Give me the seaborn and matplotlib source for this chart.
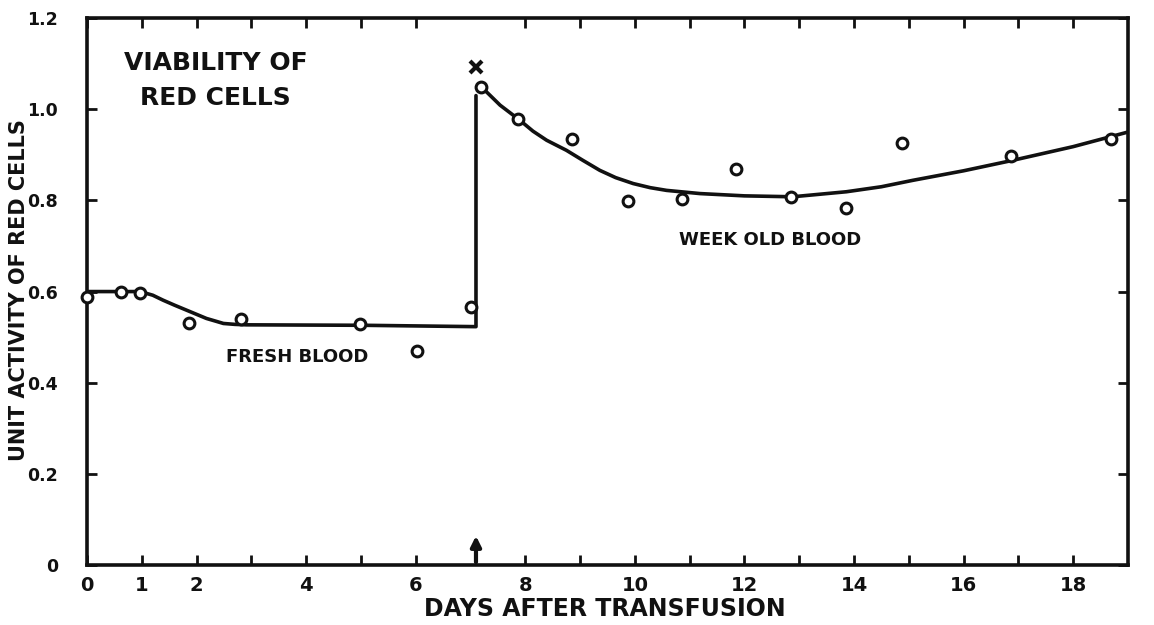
import matplotlib
matplotlib.use("Agg")
import matplotlib.pyplot as plt
import pandas as pd
import seaborn as sns

# measured points (open circles)
obs_day = [0.0, 0.62, 0.97, 1.86, 2.81, 4.98, 6.02, 7.0, 7.19, 7.86, 8.85,
           9.87, 10.86, 11.84, 12.85, 13.85, 14.87, 16.86, 18.7]
obs_activity = [0.588, 0.60, 0.597, 0.53, 0.54, 0.528, 0.47, 0.566, 1.048, 0.978, 0.934,
                0.798, 0.803, 0.87, 0.807, 0.783, 0.925, 0.897, 0.934]

# hand-drawn curve, fresh blood (ends with the vertical step at transfusion)
fresh_day = [0.0, 0.97, 1.2, 1.39, 1.6, 1.82, 2.0, 2.18, 2.35, 2.49, 2.7, 2.91, 5.04, 7.1, 7.1]
fresh_activity = [0.60, 0.60, 0.592, 0.581, 0.57, 0.559, 0.55, 0.541, 0.535, 0.53, 0.528,
                  0.527, 0.526, 0.523, 1.03]

# hand-drawn curve, week old blood
week_day = [7.2, 7.54, 7.9, 8.14, 8.39, 8.75, 9.05, 9.36, 9.65, 9.97, 10.28, 10.58,
            11.19, 12.0, 12.88, 13.86, 14.5, 15.07, 16.0, 16.9, 18.0, 19.0]
week_activity = [1.049, 1.009, 0.976, 0.952, 0.932, 0.91, 0.888, 0.866, 0.85, 0.837,
                 0.828, 0.822, 0.815, 0.81, 0.808, 0.819, 0.83, 0.844, 0.865, 0.888,
                 0.918, 0.95]

peak_day, peak_activity = 7.1, 1.092
transfusion_day = 7.1

x_ticks = [0, 1, 2, 3, 4, 5, 6, 8, 9, 10, 11, 12, 13, 14, 15, 16, 17, 18]
x_labels = ["0", "1", "2", "", "4", "", "6", "8", "", "10", "", "12", "", "14", "", "16", "", "18"]
y_ticks = [0, 0.2, 0.4, 0.6, 0.8, 1.0, 1.2]
y_labels = ["0", "0.2", "0.4", "0.6", "0.8", "1.0", "1.2"]

sns.set_style("ticks")
plt.rcParams["font.family"] = ["DejaVu Sans"]
plt.rcParams["font.weight"] = "bold"
ink = "#111111"

fig = plt.figure(figsize=(11.54, 6.25), dpi=100)
ax = fig.add_axes([0.0754, 0.096, 0.902, 0.875])

fresh = pd.DataFrame({"day": fresh_day, "activity": fresh_activity})
week = pd.DataFrame({"day": week_day, "activity": week_activity})
obs = pd.DataFrame({"day": obs_day, "activity": obs_activity})

sns.lineplot(data=fresh, x="day", y="activity", sort=False, estimator=None,
             color=ink, lw=2.6, ax=ax)
sns.lineplot(data=week, x="day", y="activity", sort=False, estimator=None,
             color=ink, lw=2.6, ax=ax)
sns.scatterplot(data=obs, x="day", y="activity", marker="o", s=60, color="white",
                edgecolor=ink, linewidth=2.2, zorder=5, clip_on=False, ax=ax)
ax.plot([peak_day], [peak_activity], marker="x", color=ink, ms=8, mew=3)
ax.annotate("", xy=(transfusion_day, 0.07), xytext=(transfusion_day, 0.0),
            arrowprops=dict(arrowstyle="-|>,head_length=0.6,head_width=0.3",
                            color=ink, lw=3))

ax.set_xlim(0, 19)
ax.set_ylim(0, 1.2)
ax.set_xticks(x_ticks, x_labels)
ax.set_yticks(y_ticks, y_labels)
ax.tick_params(axis="both", direction="in", length=7, width=2, colors=ink,
               labelsize=14, top=True, right=True)
ax.tick_params(axis="x", pad=8)
ax.tick_params(axis="y", pad=21, labelsize=12.5)
for side in ax.spines.values():
    side.set_linewidth(2.6)
    side.set_color(ink)

ax.set_xlabel("DAYS AFTER TRANSFUSION", fontsize=17, fontweight="bold", color=ink)
ax.set_ylabel("UNIT ACTIVITY OF RED CELLS", fontsize=15, fontweight="bold", color=ink)
ax.xaxis.set_label_coords(0.4976, -0.058)
ax.yaxis.set_label_coords(-0.056, 0.503)

ax.text(2.35, 1.063, "VIABILITY OF\nRED CELLS", ha="center", va="center",
        fontsize=18, fontweight="bold", color=ink, linespacing=1.6)
ax.text(3.83, 0.456, "FRESH BLOOD", ha="center", va="center",
        fontsize=13, fontweight="bold", color=ink)
ax.text(12.46, 0.713, "WEEK OLD BLOOD", ha="center", va="center",
        fontsize=13, fontweight="bold", color=ink)

fig.savefig("out.png", dpi=100)
